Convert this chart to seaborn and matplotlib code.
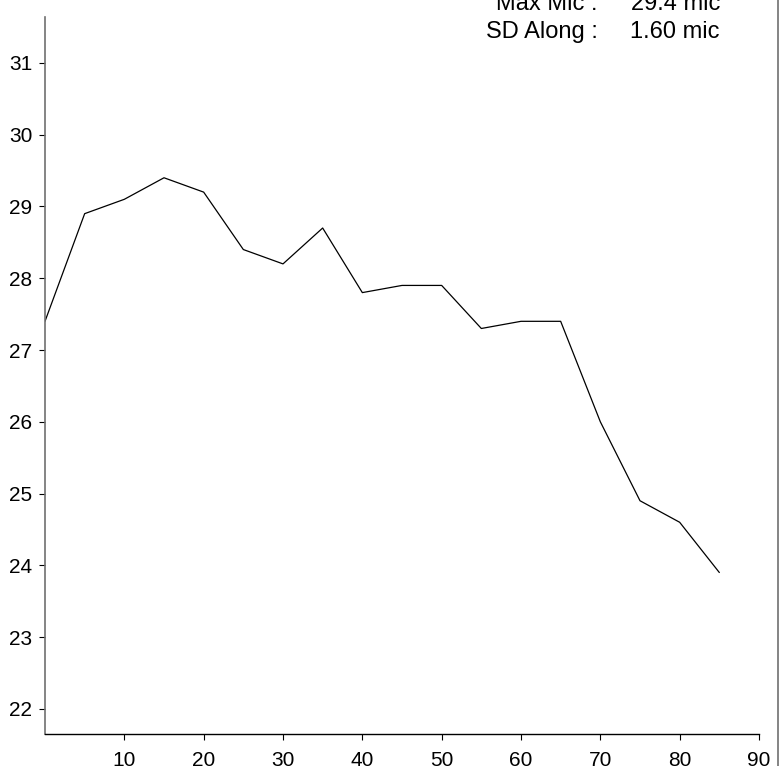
import matplotlib
matplotlib.use("Agg")
import matplotlib.pyplot as plt
from matplotlib.lines import Line2D
import seaborn as sns
import pandas as pd

positions = [0, 5, 10, 15, 20, 25, 30, 35, 40, 45, 50, 55, 60, 65, 70, 75, 80, 85]
micron = [27.4, 28.9, 29.1, 29.4, 29.2, 28.4, 28.2, 28.7, 27.8, 27.9, 27.9,
          27.3, 27.4, 27.4, 26.0, 24.9, 24.6, 23.9]
x_ticks = [10, 20, 30, 40, 50, 60, 70, 80, 90]
y_ticks = [22, 23, 24, 25, 26, 27, 28, 29, 30, 31]
stat_labels = ["Max Mic :", "SD Along :"]
stat_values = ["29.4 mic", "1.60 mic"]

sns.set_style("white")
plt.rcParams['font.family'] = ['Liberation Sans', 'DejaVu Sans']
plt.rcParams['text.color'] = 'black'

W, H = 783, 766
fig = plt.figure(figsize=(W / 100, H / 100), dpi=100)
ax = fig.add_axes([45 / W, 32 / H, (759 - 45) / W, (734 - 17) / H])

df = pd.DataFrame({"pos": positions, "mic": micron})
sns.lineplot(data=df, x="pos", y="mic", ax=ax, color="black", linewidth=0.9)

ax.set_xlim(0, 90)
ax.set_ylim(21.65, 31.64)
ax.set_xticks(x_ticks)
ax.set_yticks(y_ticks)
ax.set_xlabel("")
ax.set_ylabel("")

for s in ["top", "right"]:
    ax.spines[s].set_visible(False)
ax.spines["left"].set_color("#707070")
ax.spines["left"].set_linewidth(1.2)
ax.spines["bottom"].set_color("black")
ax.spines["bottom"].set_linewidth(1.0)

ax.tick_params(axis="both", which="major", direction="out", length=4, width=0.8,
               color="black", labelsize=15, labelcolor="black")
ax.tick_params(axis="x", pad=8, bottom=True)
ax.tick_params(axis="y", pad=5, left=True)

# Stats text (figure pixel coordinates, top-origin)
baselines = [10, 38]
for lab, val, yb in zip(stat_labels, stat_values, baselines):
    fig.text(598 / W, 1 - yb / H, lab, ha="right", va="baseline", fontsize=17, color="black")
    fig.text(720 / W, 1 - yb / H, val, ha="right", va="baseline", fontsize=17, color="black")

# right border line
fig.add_artist(Line2D([777.5 / W, 777.5 / W], [0, 1], transform=fig.transFigure,
                      color="#707070", linewidth=1.2))

fig.savefig("out.png", dpi=100)
